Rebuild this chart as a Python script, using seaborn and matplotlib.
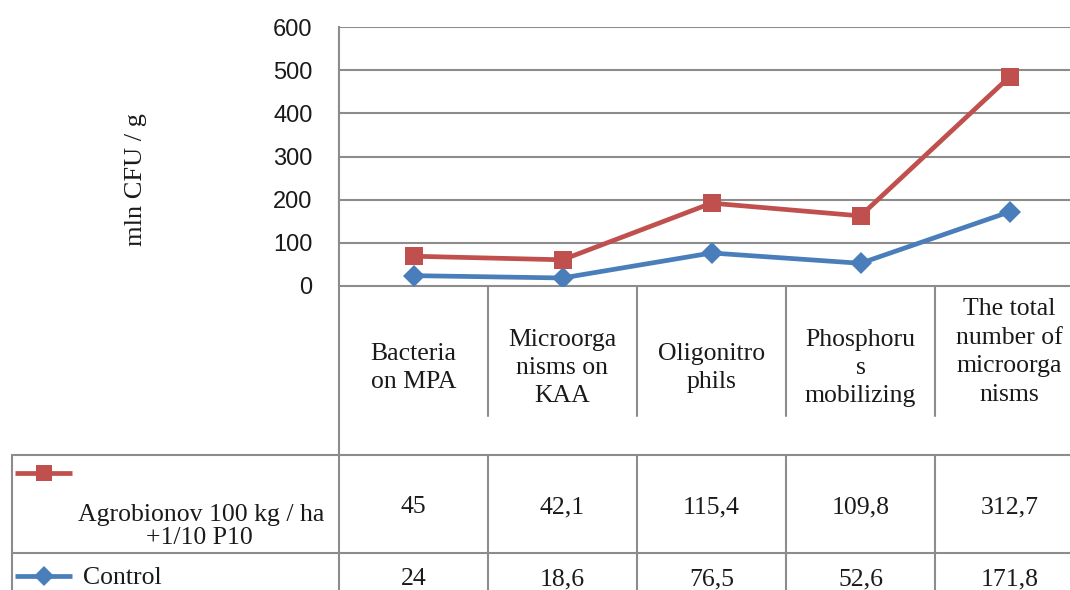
import matplotlib
matplotlib.use("Agg")
import matplotlib.pyplot as plt
import seaborn as sns
import pandas as pd

# Categories and series (values as listed in the data table)
categories = ["Bacteria\non MPA", "Microorga\nnisms on\nKAA", "Oligonitro\nphils",
              "Phosphoru\ns\nmobilizing", "The total\nnumber of\nmicroorga\nnisms"]
agro_labels = ["45", "42,1", "115,4", "109,8", "312,7"]
control_labels = ["24", "18,6", "76,5", "52,6", "171,8"]
agro = [45, 42.1, 115.4, 109.8, 312.7]
control = [24, 18.6, 76.5, 52.6, 171.8]
y_ticks = [0, 100, 200, 300, 400, 500, 600]

agro_name = "Agrobionov 100 kg / ha +1/10 P10"
control_name = "Control"

RED = "#C0504D"
BLUE = "#4A7EBB"
GRID = "#8C8C8C"
INK = "#1a1a1a"
FS = 18.5

sns.set_theme(style="white")
plt.rcParams["font.family"] = ["Liberation Serif", "DejaVu Serif"]

W, H = 1070, 590
fig = plt.figure(figsize=(W / 100, H / 100), dpi=100)

# plot box in pixels
left, top, bottom, col_w = 339, 27, 286, 149
n = len(categories)
right = left + n * col_w

ax = fig.add_axes([left / W, (H - bottom) / H, (right - left) / W, (bottom - top) / H])

# stacked line chart: the treatment line sits on top of the control line
stacked = [a + c for a, c in zip(agro, control)]
df = pd.DataFrame({
    "pos": list(range(n)) * 2,
    "value": control + stacked,
    "series": [control_name] * n + [agro_name] * n,
})
sns.lineplot(data=df, x="pos", y="value", hue="series", style="series",
             hue_order=[control_name, agro_name], style_order=[control_name, agro_name],
             palette={control_name: BLUE, agro_name: RED},
             markers={control_name: "D", agro_name: "s"}, dashes=False,
             markersize=13, linewidth=3.4, markeredgewidth=0, sort=False,
             legend=False, ax=ax, zorder=3)
for ln in ax.lines:
    if ln.get_marker() == "D":
        ln.set_markersize(11)

ax.set_xlim(-0.5, n - 0.5)
ax.set_ylim(0, 600)
ax.set_yticks(y_ticks)
ax.set_yticklabels([str(t) for t in y_ticks], family=["Liberation Sans"], fontsize=17, color=INK)
ax.set_xticks([])
ax.set_xlabel("")
ax.set_ylabel("")
ax.tick_params(axis="y", length=0, pad=19)
ax.yaxis.grid(True, color=GRID, linewidth=1.5)
ax.set_axisbelow(True)
for s in ["top", "right", "bottom"]:
    ax.spines[s].set_visible(False)
ax.spines["left"].set_color(GRID)
ax.spines["left"].set_linewidth(1.5)

fig.text(136 / W, 1 - 180 / H, "mln CFU / g", rotation=90, ha="center", va="center",
         fontsize=19, color=INK)

# data table drawn in pixel space beneath the plot
tab = fig.add_axes([0, 0, 1, 1], zorder=-1)
tab.set_xlim(0, W)
tab.set_ylim(H, 0)
tab.axis("off")
lw = 1.5
bounds = [left + i * col_w for i in range(n + 1)]
centers = [left + (i + 0.5) * col_w for i in range(n)]

# category header cells (labels taller than the cell start at its top)
tab.plot([left, W], [bottom, bottom], color=GRID, lw=lw)
for b in bounds[1:]:
    tab.plot([b, b], [bottom, 416], color=GRID, lw=lw)
tab.plot([left, left], [top, H], color=GRID, lw=lw)
for c, lab in zip(centers, categories):
    n_lines = lab.count("\n") + 1
    yc = 368 if n_lines <= 3 else 352
    tab.text(c, yc, lab, ha="center", va="center", fontsize=FS,
             linespacing=1.38, color=INK)

# value rows
row1_top, row2_top = 455, 553
tab.plot([12, W], [row1_top, row1_top], color=GRID, lw=lw)
tab.plot([12, W], [row2_top, row2_top], color=GRID, lw=lw)
tab.plot([12, 12], [row1_top, H], color=GRID, lw=lw)
for b in bounds[1:]:
    tab.plot([b, b], [row1_top, H], color=GRID, lw=lw)

for c, a_lab, c_lab in zip(centers, agro_labels, control_labels):
    tab.text(c, 507, a_lab, ha="center", va="center", fontsize=FS, color=INK)
    tab.text(c, 579, c_lab, ha="center", va="center", fontsize=FS, color=INK)

# legend keys inside the row headers
tab.plot([15, 44, 72], [473, 473, 473], color=RED, lw=3.4, marker="s", markevery=[1],
         markersize=12, markeredgewidth=0, solid_capstyle="butt")
tab.plot([15, 44, 72], [576, 576, 576], color=BLUE, lw=3.4, marker="D", markevery=[1],
         markersize=10, markeredgewidth=0, solid_capstyle="butt")
tab.text(201, 515, "Agrobionov 100 kg / ha", ha="center", va="center", fontsize=FS, color=INK)
tab.text(199, 538, "+1/10 P10", ha="center", va="center", fontsize=FS, color=INK)
tab.text(83, 578, control_name, ha="left", va="center", fontsize=FS, color=INK)

fig.savefig("out.png", dpi=100, facecolor="white")
